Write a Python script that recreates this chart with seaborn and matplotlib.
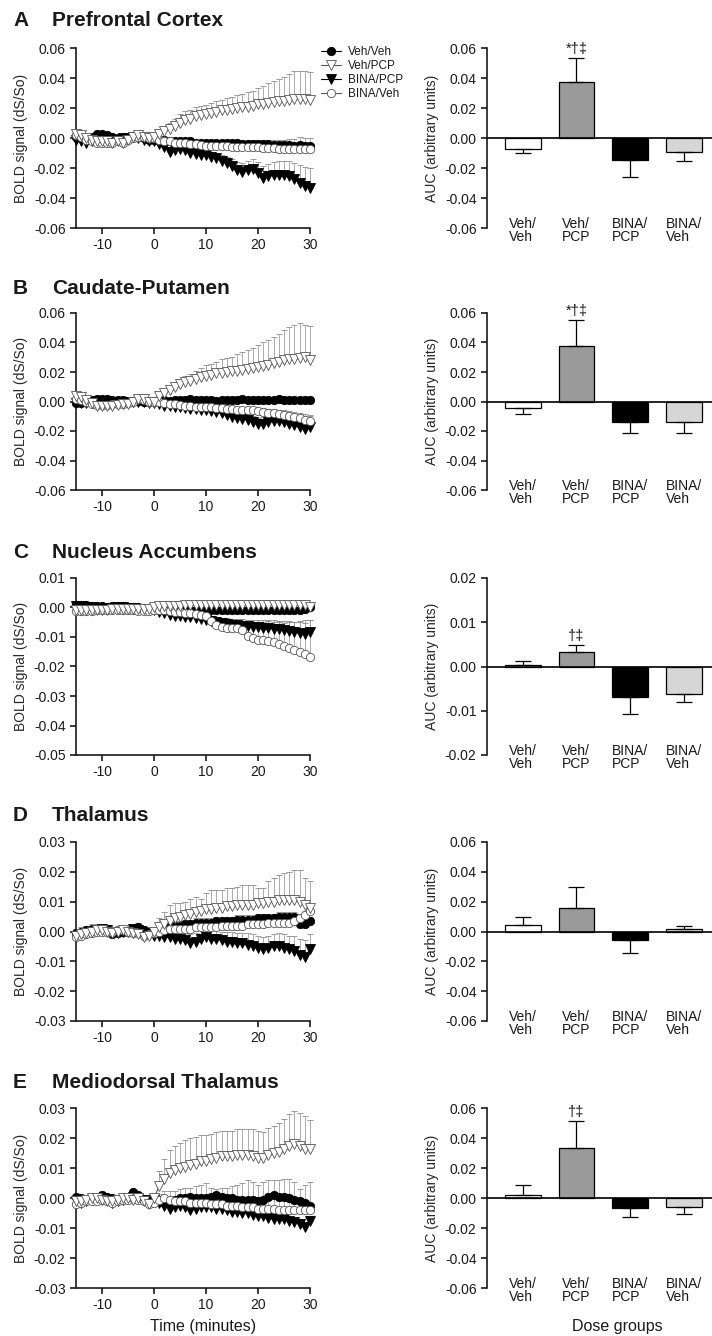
"""
BOLD time courses and AUC by dose group for five brain regions.
"""

import numpy as np
import matplotlib
matplotlib.use("Agg")
import matplotlib.pyplot as plt
from matplotlib.ticker import FuncFormatter, MultipleLocator
import seaborn as sns

# ── style ─────────────────────────────────────────────────────────────────────

sns.set_style("ticks")
plt.rcParams["font.family"] = ["Liberation Sans", "DejaVu Sans"]
plt.rcParams.update({
    "axes.unicode_minus": False,
    "axes.linewidth": 1.2,
    "xtick.major.width": 1.2,
    "ytick.major.width": 1.2,
    "xtick.major.size": 4,
    "ytick.major.size": 4,
    "xtick.labelsize": 10,
    "ytick.labelsize": 10,
    "axes.labelsize": 10,
    "text.color": "#1a1a1a",
    "xtick.color": "#1a1a1a",
    "ytick.color": "#1a1a1a",
    "axes.edgecolor": "#1a1a1a",
})

# ── data (time courses in units of 1e-3 dS/So) ────────────────────────────────

time_min = [-15, -14, -13, -12, -11, -10, -9, -8, -7, -6, -5, -4, -3, -2, -1, 0,
            1, 2, 3, 4, 5, 6, 7, 8, 9, 10,
            11, 12, 13, 14, 15, 16, 17, 18, 19, 20,
            21, 22, 23, 24, 25, 26, 27, 28, 29, 30]

GROUPS = ["Veh/Veh", "Veh/PCP", "BINA/PCP", "BINA/Veh"]
GROUP_TICKS = ["Veh/\nVeh", "Veh/\nPCP", "BINA/\nPCP", "BINA/\nVeh"]

# A  prefrontal cortex
pfc_veh_veh = [1, 0, -1, 1, 3, 3, 2, 1, 0, 0, 0, 1, 1, 0, -1, -1,
               -1, -1, -2, -2, -2, -2, -2, -3, -3, -3,
               -3, -3, -3, -3.5, -3.5, -3.5, -4, -4, -4, -4,
               -4, -4, -4.5, -4.5, -4.5, -4.5, -5, -4.5, -5, -5]
pfc_veh_veh_err = [1.5, 1.5, 1.5, 1.5, 1.5, 1.5, 1.5, 1.5, 1.5, 1.5, 1.5, 1.5, 1.5, 1.5, 1.5, 1.5,
                   1.5, 1.5, 1.5, 1.5, 1.5, 2, 2, 2, 2, 2,
                   2, 2, 2, 2, 2, 2.5, 2.5, 2.5, 2.5, 2.5,
                   3, 3, 3, 3.5, 3.5, 4, 4.5, 5, 5, 5]
pfc_veh_pcp = [3, 2, 0, -1, -2, -2, -2, -3, -2, -3, -1, 1, 2, 1, 0, 0.5,
               3, 5, 6, 8, 10, 12, 13, 14.5, 15.5, 16,
               17, 17.5, 18.5, 19, 19.5, 20, 20.5, 21, 21.5, 22.5,
               23, 23.5, 24, 24.5, 25, 25.5, 26, 26, 26, 25.5]
pfc_veh_pcp_err = [1, 1, 1, 1, 1, 1, 1, 1, 1, 1, 1, 1, 1, 1, 1, 1,
                   2, 3, 4, 5, 6, 6, 6, 6, 6, 6,
                   6.5, 7, 7, 7.5, 8, 8.5, 9, 9.5, 10, 11,
                   12, 13, 14, 15, 16, 17, 18.5, 19, 19, 18.5]
pfc_bina_pcp = [-1, -2, -3, -2, -1, 0, 0, -1, -1, 0, 0, 1, 0, -1, -2, -2,
                -4, -6, -9, -8, -7, -8, -10, -10.5, -11, -11.5,
                -12.5, -13.5, -15, -16.5, -18.5, -21, -22.5, -21, -20.5, -23,
                -26.5, -25, -24.5, -24.5, -24.5, -25.5, -27.5, -30, -32, -33]
pfc_bina_pcp_err = [1, 1, 1, 1, 1, 1, 1, 1, 1, 1, 1, 1, 1, 1, 1, 1,
                    1.5, 2, 3, 3, 3, 3, 3, 3, 3, 3,
                    3.5, 3.5, 4, 4, 4.5, 5, 6, 6, 6.5, 7,
                    8, 8, 8.5, 9, 9.5, 10, 11, 12, 12.5, 13]
pfc_bina_veh = [2, 1, -1, -2, -3, -3, -3, -3, -2, -3, -1, 0, 1, 1, 0, 0,
                -1, -2, -2, -3, -3, -3.5, -4, -4, -4.5, -5,
                -5, -5, -5.5, -5.5, -6, -6, -6, -6, -6, -6,
                -6.5, -6.5, -6.5, -7, -7, -7, -7, -7.5, -7.5, -7.5]
pfc_bina_veh_err = 1.5

# B  caudate-putamen
cpu_veh_veh = [-1, -1, 0, 1, 1.5, 1.5, 1.5, 1, 1, 1, 0.5, 0.5, 0.5, 0, 0, 0.5,
               1, 1, 0.5, 1, 1, 1, 1.5, 1, 1, 1,
               1, 0.5, 1, 1, 1, 1, 1.5, 1, 1, 1,
               1, 1, 1, 1.5, 1, 1, 1, 1, 1, 1]
cpu_veh_veh_err = 0.5
cpu_veh_pcp = [4, 3, 1, -1, -3, -3, -3, -3, -2.5, -2, -1.5, 0, 2, 1.5, 0, 0,
               4, 6, 7.5, 10, 12, 13, 14, 15.5, 16.5, 17.5,
               18, 19, 19.5, 20, 20.5, 21, 21.5, 22, 22.5, 23.5,
               24, 25, 26, 27, 28, 28.5, 29, 29.5, 30, 28]
cpu_veh_pcp_err = [1, 1, 1, 1, 1, 1, 1, 1, 1, 1, 1, 1, 1, 1, 1, 1,
                   1.5, 2, 2.5, 3, 3.5, 4, 4.5, 5, 6, 7,
                   7.5, 8, 9, 9.5, 10, 11, 12, 13, 14, 15,
                   16, 17, 18, 19, 20.5, 22, 23, 23.5, 22, 23]
cpu_bina_pcp = [-1, -1, -1, -0.5, 0, 0, 0, 0, 0, -0.5, -0.5, 0, 0, -0.5, -1, -1,
                -2, -3, -3, -3.5, -4, -4.5, -5, -5, -5.5, -6,
                -6.5, -7, -8, -9, -10.5, -11, -12, -12.5, -14, -15,
                -15, -14, -13.5, -13, -14, -15, -16, -17.5, -18.5, -17.5]
cpu_bina_pcp_err = [1, 1, 1, 1, 1, 1, 1, 1, 1, 1, 1, 1, 1, 1, 1, 1,
                    1.5, 1.5, 1.5, 2, 2, 2, 2, 2, 2, 2,
                    2.5, 2.5, 3, 3, 3, 3.5, 3.5, 3.5, 4, 4,
                    4.5, 5, 5, 5.5, 6, 6.5, 7, 7.5, 8, 8]
cpu_bina_veh = [2, 1, 0, -1.5, -2.5, -2.5, -2.5, -2, -2, -1.5, -1, 0, 1.5, 1, 0, 0,
                -0.5, -1, -1.5, -2, -2.5, -3, -3, -3.5, -3.5, -4,
                -4, -4.5, -4.5, -5, -5, -5.5, -5.5, -6, -6, -6.5,
                -7, -7.5, -8, -8.5, -9, -10, -10.5, -11.5, -12.5, -13]
cpu_bina_veh_err = [1, 1, 1, 1, 1, 1, 1, 1, 1, 1, 1, 1, 1, 1, 1, 1,
                    1.5, 1.5, 1.5, 1.5, 1.5, 1.5, 1.5, 1.5, 1.5, 1.5,
                    2, 2, 2, 2, 2, 2, 2, 2, 2, 2,
                    2.5, 2.5, 3, 3, 3, 3.5, 3.5, 4, 4, 4]

# C  nucleus accumbens
nac_veh_veh = [1, 1, 0.8, 0.6, 0.5, 0.4, 0.3, 0.4, 0.4, 0.5, 0.3, 0.2, 0, -0.3, -0.5, -0.5,
               -0.8, -0.8, -0.9, -0.9, -1, -1, -1, -1, -1, -1,
               -1, -1, -1, -1, -1, -1, -1, -1, -1, -1,
               -1, -1, -1, -1, -1, -1, -1, -1, -0.5, 0]
nac_veh_veh_err = 0.3
nac_veh_pcp = [-1, -1, -1, -1, -1, -1, -1, -0.5, -0.5, -0.5, -0.5, -0.5, -0.5, -0.5, -0.5, 0,
               0.5, 0.5, 0.5, 0.6, 0.6, 0.7, 0.7, 0.8, 0.8, 0.8,
               0.9, 0.9, 0.9, 1, 1, 1, 1, 1, 1, 1,
               1, 1, 1, 1, 1, 1, 1, 0.9, 0.8, 0]
nac_veh_pcp_err = 0.3
nac_bina_pcp = [0.5, 0.5, 0.2, 0, -0.2, -0.3, -0.2, -0.1, 0, 0, -0.2, -0.3, -0.5, -0.6, -0.8, -1,
                -1.5, -2, -2.5, -2.8, -3, -3.2, -3.3, -3.5, -3.8, -4.2,
                -4.5, -4.8, -5.2, -5.6, -6, -6, -6.2, -6.4, -6.5, -6.6,
                -6.8, -7, -7.2, -7.4, -7.6, -7.8, -8.2, -8.6, -9, -8.4]
nac_bina_pcp_err = [0.5, 0.5, 0.5, 0.5, 0.5, 0.5, 0.5, 0.5, 0.5, 0.5, 0.5, 0.5, 0.5, 0.5, 0.5, 0.5,
                    0.6, 0.7, 0.8, 0.9, 1, 1, 1.1, 1.2, 1.3, 1.5,
                    1.6, 1.7, 1.8, 1.9, 2, 2.1, 2.2, 2.3, 2.4, 2.5,
                    2.6, 2.7, 2.8, 2.9, 3, 3.2, 3.4, 3.6, 3.8, 4]
nac_bina_veh = [-1.2, -1.2, -1.1, -1.1, -1, -1, -1, -1, -0.9, -0.9, -1, -1, -1.1, -1.1, -1.2, -1,
                -1, -1, -1.2, -1.4, -1.5, -1.8, -2, -2.3, -2.6, -3,
                -4.5, -6, -6.5, -7, -7, -6.8, -7.5, -9.5, -10.5, -11,
                -11, -11.2, -11.8, -12.5, -13.2, -13.8, -14.3, -15, -15.8, -16.8]
nac_bina_veh_err = [0.5, 0.5, 0.5, 0.5, 0.5, 0.5, 0.5, 0.5, 0.5, 0.5, 0.5, 0.5, 0.5, 0.5, 0.5, 0.5,
                    0.5, 0.6, 0.7, 0.8, 0.8, 0.9, 1, 1, 1, 1,
                    1.5, 2, 2.5, 3, 3, 3, 3.5, 4.5, 5, 5.5,
                    6, 6.5, 7, 7.5, 8, 9, 9.5, 10.5, 11.5, 12.5]

# D  thalamus
thal_veh_veh = [-0.5, 0, 0.5, 1, 1, 1, 0.5, -1, -0.5, 0, 0, 1, 1.5, 0.5, 0, -0.5,
                0.5, 1, 1.5, 2, 2, 2.5, 2.5, 3, 3, 3,
                3, 3.5, 3.5, 3.5, 3.5, 4, 4, 4, 4, 4.5,
                4.5, 4.5, 4.5, 5, 5, 5, 5, 2.5, 2.5, 3.5]
thal_veh_veh_err = 1.5
thal_veh_pcp = [-1.5, -1, -0.5, 0, 0.5, 0.5, 0, -0.5, 0, 0.5, 0, -0.5, -1, -2, -1.5, 0,
                1.5, 2.5, 3.5, 4.5, 5, 5.5, 6, 6.5, 7, 7.5,
                7.5, 8, 8, 8.5, 8.5, 9, 9, 9, 9, 9.5,
                9.5, 10, 10, 10.5, 10.5, 10.5, 10.5, 10, 9, 8]
thal_veh_pcp_err = [0.5, 0.5, 0.5, 0.5, 0.5, 0.5, 0.5, 0.5, 0.5, 0.5, 0.5, 0.5, 0.5, 0.5, 0.5, 0.5,
                    3, 4, 5.5, 5, 4.5, 4.5, 5, 5, 4, 5.5,
                    6.5, 6, 6, 6, 6, 6, 6.5, 6.5, 6.5, 5,
                    5, 7, 8, 8.5, 9, 9.5, 10, 10.5, 9, 9]
thal_bina_pcp = [-1.5, -1, -0.5, 0, 0.5, 1, 0.5, -0.5, -0.5, 0, 0, 1, 0.5, -0.5, -1, -1.5,
                 -1.5, -2, -2, -2.5, -2.5, -3, -4, -3.5, -2.5, -2,
                 -2.5, -2.5, -3, -3.5, -3.5, -4, -4, -4.5, -5, -5.5,
                 -6, -5.5, -5, -5, -5.5, -6, -6.5, -8, -8.5, -6]
thal_bina_pcp_err = [1, 1, 1, 1, 1, 1, 1, 1, 1, 1, 1, 1, 1, 1, 1, 1,
                     1.5, 2, 2, 2, 2.5, 2.5, 3, 3, 3, 3,
                     3, 3, 3, 3.5, 3.5, 3.5, 3.5, 4, 4, 4,
                     4, 4, 4, 4.5, 4.5, 4.5, 5, 5.5, 5.5, 5]
thal_bina_veh = [-2, -1.5, -1, -0.5, 0, 0, 0, 0, 0.5, 0.5, 0, -0.5, -0.5, -1.5, -1, -0.5,
                 0, 0.5, 1, 1, 1, 1, 1, 1.5, 1.5, 1.5,
                 1.5, 1.5, 2, 2, 2, 2, 2, 2.5, 2.5, 2.5,
                 2.5, 3, 3, 3, 3, 3, 3.5, 4.5, 5.5, 7]
thal_bina_veh_err = 1.5

# E  mediodorsal thalamus
md_veh_veh = [0.5, 0, -0.5, 0, 0.5, 1, 0.5, 0, -0.5, 0, 0.5, 2, 1, -0.5, -1, -1,
              -1, -1.5, -1, -0.5, 0, 0, 0.5, 0, 0, 0,
              0.5, 1, 0.5, 0, 0, -0.5, -0.5, -0.5, -0.5, -1,
              -0.5, 0.5, 1, 0.5, 0.5, 0, -0.5, -1, -1.5, -2.5]
md_veh_veh_err = 1
md_veh_pcp = [-1, -1, -0.5, 0, 0, -0.5, -1, -1, -0.5, 0, 0, -0.5, 0, -1, -2, 0,
              4, 6.5, 8.5, 9.5, 10, 10.5, 11, 11.5, 12.5, 12.5,
              13, 13.5, 14, 14, 14, 14.5, 14.5, 14.5, 14, 13.5,
              13.5, 14.5, 15, 15.5, 16.5, 17.5, 18, 17.5, 16.5, 16.5]
md_veh_pcp_err = [0.5, 0.5, 0.5, 0.5, 0.5, 0.5, 0.5, 0.5, 0.5, 0.5, 0.5, 0.5, 0.5, 0.5, 0.5, 0.5,
                  5, 6.5, 7.5, 8, 8.5, 9, 9, 9, 8.5, 8.5,
                  8.5, 8.5, 8.5, 8.5, 8.5, 8.5, 8.5, 8.5, 9, 9,
                  8.5, 9, 9, 9.5, 10, 10.5, 11, 11, 11, 9.5]
md_bina_pcp = [-1, -1.5, -1, -0.5, 0, 0, -0.5, -1.5, -1, -0.5, 0, 0.5, 0, -0.5, -0.5, -0.5,
               -1.5, -2.5, -3.5, -3, -2.5, -3, -4, -3.5, -3, -3,
               -3, -3.5, -3.5, -4, -4.5, -4.5, -5, -5, -5.5, -6,
               -6, -6.5, -7, -7, -7, -7.5, -8, -8.5, -9.5, -7.5]
md_bina_pcp_err = 1.5
md_bina_veh = [-2, -1.5, -1, -1, -1, -0.5, -1, -1.5, -1, -0.5, -0.5, 0, -0.5, -1, -2, -1.5,
               -0.5, 0, -0.5, -1, -1, -1, -1.5, -1.5, -1.5, -1.5,
               -2, -2, -2, -2.5, -2.5, -2.5, -3, -3, -3, -3.5,
               -3.5, -3.5, -3.5, -4, -4, -4, -4, -4, -4, -4]
md_bina_veh_err = [0.5, 0.5, 0.5, 0.5, 0.5, 0.5, 0.5, 0.5, 0.5, 0.5, 0.5, 0.5, 0.5, 0.5, 0.5, 0.5,
                   2, 2.5, 3, 3.5, 4, 4.5, 5, 5.5, 6, 6.5,
                   5.5, 5, 5.5, 6, 6.5, 7, 8, 9, 8.5, 8,
                   9, 9.5, 9.5, 10, 10.5, 10.5, 9.5, 7, 8.5, 9.5]

# AUC per dose group (mean, SEM)
auc_pfc = [-0.0071, 0.0373, -0.0144, -0.0096]
auc_pfc_err = [0.0029, 0.0160, 0.0116, 0.0054]
auc_cpu = [-0.0045, 0.0377, -0.0140, -0.0138]
auc_cpu_err = [0.0041, 0.0176, 0.0074, 0.0076]
auc_nac = [0.00045, 0.0032, -0.0069, -0.0063]
auc_nac_err = [0.00085, 0.0017, 0.0038, 0.0018]
auc_thal = [0.0044, 0.0157, -0.0055, 0.0015]
auc_thal_err = [0.0051, 0.0141, 0.0091, 0.0020]
auc_md = [0.0018, 0.0336, -0.0069, -0.0058]
auc_md_err = [0.0069, 0.0180, 0.0055, 0.0046]

# ── panel setup ───────────────────────────────────────────────────────────────

LINE_STYLE = {
    "Veh/Veh":  dict(marker="o", markersize=6, color="black",
                     markerfacecolor="black", markeredgecolor="black"),
    "Veh/PCP":  dict(marker="v", markersize=6.8, color="#555555",
                     markerfacecolor="white", markeredgecolor="#555555"),
    "BINA/PCP": dict(marker="v", markersize=6.8, color="black",
                     markerfacecolor="black", markeredgecolor="black"),
    "BINA/Veh": dict(marker="o", markersize=6, color="#555555",
                     markerfacecolor="white", markeredgecolor="#555555"),
}
DRAW_ORDER = ["Veh/Veh", "BINA/PCP", "BINA/Veh", "Veh/PCP"]
BAR_COLORS = {"Veh/Veh": "white", "Veh/PCP": "#9a9a9a", "BINA/PCP": "black", "BINA/Veh": "#d6d6d6"}

panels = [
    ("A", "Prefrontal Cortex",
     [(pfc_veh_veh, pfc_veh_veh_err), (pfc_veh_pcp, pfc_veh_pcp_err),
      (pfc_bina_pcp, pfc_bina_pcp_err), (pfc_bina_veh, pfc_bina_veh_err)],
     (-0.06, 0.06), 0.02, auc_pfc, auc_pfc_err, (-0.06, 0.06), 0.02, "*†‡"),
    ("B", "Caudate-Putamen",
     [(cpu_veh_veh, cpu_veh_veh_err), (cpu_veh_pcp, cpu_veh_pcp_err),
      (cpu_bina_pcp, cpu_bina_pcp_err), (cpu_bina_veh, cpu_bina_veh_err)],
     (-0.06, 0.06), 0.02, auc_cpu, auc_cpu_err, (-0.06, 0.06), 0.02, "*†‡"),
    ("C", "Nucleus Accumbens",
     [(nac_veh_veh, nac_veh_veh_err), (nac_veh_pcp, nac_veh_pcp_err),
      (nac_bina_pcp, nac_bina_pcp_err), (nac_bina_veh, nac_bina_veh_err)],
     (-0.05, 0.01), 0.01, auc_nac, auc_nac_err, (-0.02, 0.02), 0.01, "†‡"),
    ("D", "Thalamus",
     [(thal_veh_veh, thal_veh_veh_err), (thal_veh_pcp, thal_veh_pcp_err),
      (thal_bina_pcp, thal_bina_pcp_err), (thal_bina_veh, thal_bina_veh_err)],
     (-0.03, 0.03), 0.01, auc_thal, auc_thal_err, (-0.06, 0.06), 0.02, ""),
    ("E", "Mediodorsal Thalamus",
     [(md_veh_veh, md_veh_veh_err), (md_veh_pcp, md_veh_pcp_err),
      (md_bina_pcp, md_bina_pcp_err), (md_bina_veh, md_bina_veh_err)],
     (-0.03, 0.03), 0.01, auc_md, auc_md_err, (-0.06, 0.06), 0.02, "†‡"),
]

# axes boxes in pixels (top, bottom) for a 712 x 1336 figure
W, H = 712, 1336
rows_px = [(48, 228), (313, 490), (578, 755), (842, 1021), (1108, 1288)]
title_px = [20, 288, 552, 815, 1082]

# avoid "-0.00" from float noise at zero
two_dec = FuncFormatter(lambda v, _: f"{round(v, 4) + 0.0:.2f}")


def draw_time(ax, series, ylim, step):
    t = np.asarray(time_min)
    for name, (mean, sem) in zip(GROUPS, series):
        y = np.asarray(mean, dtype=float) / 1000
        e = np.broadcast_to(np.asarray(sem, dtype=float) / 1000, y.shape)
        ax.errorbar(t, y, yerr=[np.zeros_like(e), e], fmt="none", ecolor="#8c8c8c",
                    elinewidth=0.5, capsize=2.2, capthick=0.6, zorder=1, clip_on=False)
    for name in DRAW_ORDER:
        mean = series[GROUPS.index(name)][0]
        y = np.asarray(mean, dtype=float) / 1000
        sns.lineplot(x=t, y=y, ax=ax, label=name, legend=False, errorbar=None,
                     linewidth=0.8, markeredgewidth=0.6,
                     clip_on=False, zorder=3, **LINE_STYLE[name])
    ax.set_xlim(-15, 30)
    ax.set_ylim(*ylim)
    ax.set_xticks([-10, 0, 10, 20, 30])
    ax.yaxis.set_major_locator(MultipleLocator(step))
    ax.yaxis.set_major_formatter(two_dec)
    ax.set_ylabel("BOLD signal (dS/So)")
    ax.set_xlabel("")
    sns.despine(ax=ax)


def draw_auc(ax, vals, sems, ylim, step, mark):
    sns.barplot(x=GROUPS, y=vals, hue=GROUPS, palette=BAR_COLORS, order=GROUPS,
                hue_order=GROUPS, edgecolor="black", linewidth=0.9, width=0.67,
                legend=False, ax=ax)
    pos = np.arange(len(GROUPS))
    v = np.asarray(vals)
    s = np.asarray(sems)
    lower = np.where(v < 0, s, 0)
    upper = np.where(v >= 0, s, 0)
    ax.errorbar(pos, v, yerr=[lower, upper], fmt="none", ecolor="black",
                elinewidth=0.9, capsize=6, capthick=0.9, zorder=1)
    ax.axhline(0, color="black", linewidth=1.2, zorder=4)
    if mark:
        ax.annotate(mark, (1, v[1] + s[1]), xytext=(0, 1.5), textcoords="offset points",
                    ha="center", va="bottom", fontsize=10.5)
    ax.set_xlim(-0.67, 3.53)
    ax.set_ylim(*ylim)
    ax.yaxis.set_major_locator(MultipleLocator(step))
    ax.yaxis.set_major_formatter(two_dec)
    ax.set_xticks(pos, GROUP_TICKS)
    ax.tick_params(axis="x", length=0, pad=-8, labelsize=10)
    for lbl in ax.get_xticklabels():
        lbl.set_multialignment("left")
        lbl.set_linespacing(0.9)
    ax.set_ylabel("AUC (arbitrary units)")
    ax.set_xlabel("")
    sns.despine(ax=ax, bottom=True)


fig = plt.figure(figsize=(W / 100, H / 100), dpi=100)

for i, (letter, region, series, ylim, step, auc, auc_err, auc_lim, auc_step, mark) in enumerate(panels):
    top, bot = rows_px[i]
    bottom = 1 - bot / H
    height = (bot - top) / H

    ax_l = fig.add_axes([76 / W, bottom, 234 / W, height])
    draw_time(ax_l, series, ylim, step)

    ax_r = fig.add_axes([487 / W, bottom, 1 - 487 / W, height])
    draw_auc(ax_r, auc, auc_err, auc_lim, auc_step, mark)

    ty = 1 - title_px[i] / H
    fig.text(13 / W, ty, letter, fontsize=15, fontweight="bold", va="center", ha="left")
    fig.text(52 / W, ty, region, fontsize=15, fontweight="bold", va="center", ha="left")

    if i == 0:
        handles, labels = ax_l.get_legend_handles_labels()
        lookup = dict(zip(labels, handles))
        ax_l.legend([lookup[g] for g in GROUPS], GROUPS, loc="upper left",
                    bbox_to_anchor=(321 / W, 1 - 46 / H), bbox_transform=fig.transFigure,
                    frameon=False, fontsize=8.5, handlelength=1.7, handletextpad=0.6,
                    labelspacing=0.18, borderpad=0, borderaxespad=0)

fig.text(203 / W, 1 - 1327 / H, "Time (minutes)", fontsize=11.5, ha="center", va="center")
fig.text(617 / W, 1 - 1327 / H, "Dose groups", fontsize=11.5, ha="center", va="center")

fig.savefig("out.png", dpi=100)
